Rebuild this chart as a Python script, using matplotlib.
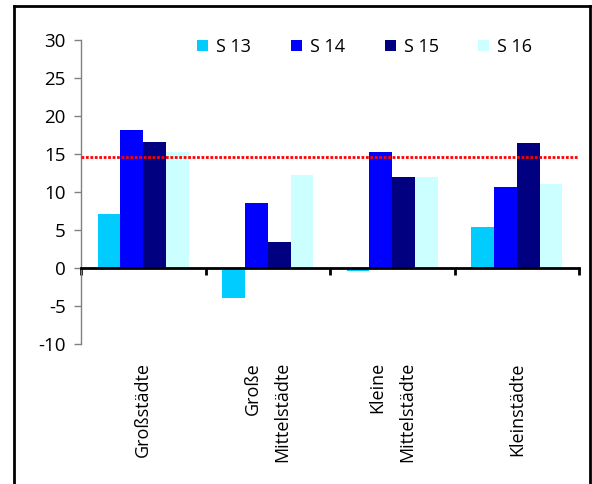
import matplotlib
matplotlib.use("Agg")
import matplotlib.pyplot as plt
import numpy as np
from matplotlib.lines import Line2D
from matplotlib.patches import Patch

plt.rcParams['font.family'] = ['Open Sans', 'DejaVu Sans']

categories = ["Großstädte", "Große\nMittelstädte", "Kleine\nMittelstädte", "Kleinstädte"]
series_names = ["S 13", "S 14", "S 15", "S 16"]
s13 = [7.1, -4.0, -0.4, 5.4]
s14 = [18.2, 8.5, 15.2, 10.6]
s15 = [16.6, 3.4, 12.0, 16.5]
s16 = [15.3, 12.3, 12.0, 11.1]
reference_level = 14.6
yticks = [-10, -5, 0, 5, 10, 15, 20, 25, 30]

colors = ["#00CCFF", "#0000FF", "#000080", "#CCFFFF"]

W, H = 592, 484
fig = plt.figure(figsize=(W / 100, H / 100), dpi=100)
ax = fig.add_axes([81 / W, 1 - 344 / H, (579 - 81) / W, (344 - 40) / H])

x = np.arange(len(categories))
width = 0.183
for i, (vals, c, name) in enumerate(zip([s13, s14, s15, s16], colors, series_names)):
    ax.bar(x + (i - 1.5) * width, vals, width, color=c, label=name, linewidth=0)

ax.axhline(reference_level, color="#FF0000", lw=2, ls=(0, (1, 0.6)), zorder=3)

ax.set_xlim(-0.5, len(categories) - 0.5)
ax.set_ylim(-10, 30)
ax.set_yticks(yticks)
ax.set_yticklabels([str(v) for v in yticks], fontsize=13.5)
ax.tick_params(axis='y', length=5, width=1, color="#808080", pad=6)

for s in ["top", "right"]:
    ax.spines[s].set_visible(False)
ax.spines["left"].set_color("#808080")
ax.spines["left"].set_linewidth(1)
ax.spines["bottom"].set_position(("data", 0))
ax.spines["bottom"].set_linewidth(2)
ax.spines["bottom"].set_color("black")
ax.spines["bottom"].set_zorder(4)

ax.set_xticks(x)
ax.set_xticklabels([])
ax.tick_params(axis='x', which='major', length=0)
ax.set_xticks(np.arange(-0.5, len(categories), 1.0), minor=True)
ax.tick_params(axis='x', which='minor', length=5, width=2, color="black", direction='out')

for xi, lab in zip(x, categories):
    ax.text(xi, -18 / 304, lab, transform=ax.get_xaxis_transform(), rotation=90,
            ha='center', va='top', multialignment='right', fontsize=13,
            linespacing=1.85)

handles = [Patch(facecolor=c, edgecolor='none') for c in colors]
ax.legend(handles, series_names, loc='center', bbox_to_anchor=(0.57, 0.977), ncol=4,
          frameon=False, fontsize=13, handlelength=0.6, handleheight=0.6,
          handletextpad=0.45, columnspacing=2.2, borderaxespad=0)

# outer frame around the chart
lw = 2
fig.add_artist(Line2D([14 / W, 14 / W], [0, 1 - 6 / H], transform=fig.transFigure, color='black', lw=lw))
fig.add_artist(Line2D([14 / W, 590 / W], [1 - 6 / H, 1 - 6 / H], transform=fig.transFigure, color='black', lw=lw))
fig.add_artist(Line2D([590 / W, 590 / W], [0, 1 - 6 / H], transform=fig.transFigure, color='black', lw=lw))

fig.savefig("out.png", dpi=100)
